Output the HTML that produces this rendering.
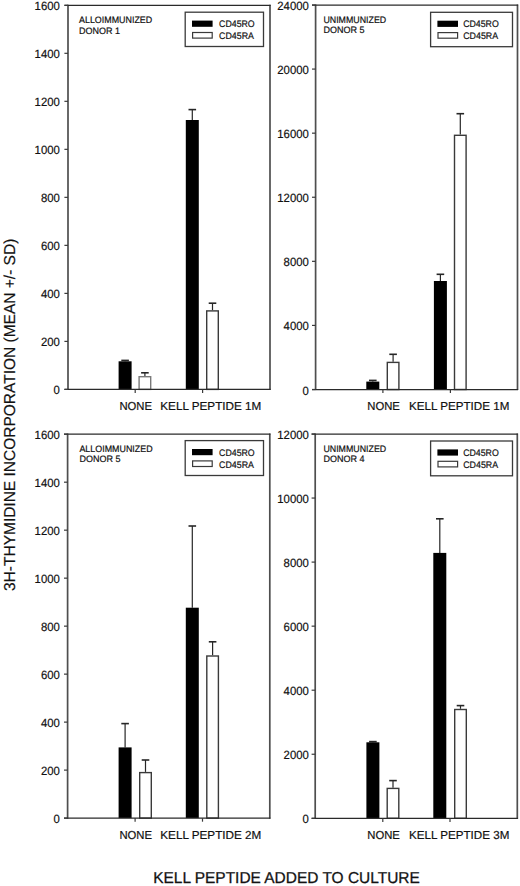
<!DOCTYPE html><html><head><meta charset="utf-8"><style>html,body{margin:0;padding:0;background:#fff;}svg{display:block;text-rendering:geometricPrecision;}text{font-family:"Liberation Sans", sans-serif;fill:#111;}</style></head><body>
<svg width="520" height="886" viewBox="0 0 520 886">
<rect width="520" height="886" fill="#fff"/>
<line x1="125.10" y1="361.30" x2="125.10" y2="360.40" stroke="#262626" stroke-width="1.2"/>
<line x1="121.30" y1="360.40" x2="128.90" y2="360.40" stroke="#262626" stroke-width="1.6"/>
<rect x="118.60" y="361.30" width="13.0" height="28.10" fill="#000"/>
<line x1="144.90" y1="376.00" x2="144.90" y2="372.80" stroke="#262626" stroke-width="1.2"/>
<line x1="141.10" y1="372.80" x2="148.70" y2="372.80" stroke="#262626" stroke-width="1.6"/>
<rect x="139.10" y="376.70" width="11.6" height="12.70" fill="#fff" stroke="#7a7a7a" stroke-width="1.4"/>
<line x1="192.30" y1="120.00" x2="192.30" y2="109.60" stroke="#262626" stroke-width="1.2"/>
<line x1="188.50" y1="109.60" x2="196.10" y2="109.60" stroke="#262626" stroke-width="1.6"/>
<rect x="185.80" y="120.00" width="13.0" height="269.40" fill="#000"/>
<line x1="212.50" y1="310.20" x2="212.50" y2="303.20" stroke="#262626" stroke-width="1.2"/>
<line x1="208.70" y1="303.20" x2="216.30" y2="303.20" stroke="#262626" stroke-width="1.6"/>
<rect x="206.70" y="310.90" width="11.6" height="78.50" fill="#fff" stroke="#3a3a3a" stroke-width="1.4"/>
<line x1="68.00" y1="4.70" x2="68.00" y2="390.00" stroke="#4e4e4e" stroke-width="1.7"/>
<line x1="270.00" y1="4.70" x2="270.00" y2="390.00" stroke="#4e4e4e" stroke-width="1.7"/>
<line x1="64.40" y1="5.30" x2="270.60" y2="5.30" stroke="#2a2a2a" stroke-width="1.25"/>
<line x1="64.40" y1="389.40" x2="270.60" y2="389.40" stroke="#2a2a2a" stroke-width="1.25"/>
<line x1="64.40" y1="389.40" x2="68.00" y2="389.40" stroke="#3a3a3a" stroke-width="1.2"/>
<text x="59.80" y="394.40" font-size="12" text-anchor="end" textLength="6.30" lengthAdjust="spacingAndGlyphs" stroke="#111" stroke-width="0.2">0</text>
<line x1="64.40" y1="341.39" x2="68.00" y2="341.39" stroke="#3a3a3a" stroke-width="1.2"/>
<text x="59.80" y="346.39" font-size="12" text-anchor="end" textLength="18.90" lengthAdjust="spacingAndGlyphs" stroke="#111" stroke-width="0.2">200</text>
<line x1="64.40" y1="293.38" x2="68.00" y2="293.38" stroke="#3a3a3a" stroke-width="1.2"/>
<text x="59.80" y="298.38" font-size="12" text-anchor="end" textLength="18.90" lengthAdjust="spacingAndGlyphs" stroke="#111" stroke-width="0.2">400</text>
<line x1="64.40" y1="245.36" x2="68.00" y2="245.36" stroke="#3a3a3a" stroke-width="1.2"/>
<text x="59.80" y="250.36" font-size="12" text-anchor="end" textLength="18.90" lengthAdjust="spacingAndGlyphs" stroke="#111" stroke-width="0.2">600</text>
<line x1="64.40" y1="197.35" x2="68.00" y2="197.35" stroke="#3a3a3a" stroke-width="1.2"/>
<text x="59.80" y="202.35" font-size="12" text-anchor="end" textLength="18.90" lengthAdjust="spacingAndGlyphs" stroke="#111" stroke-width="0.2">800</text>
<line x1="64.40" y1="149.34" x2="68.00" y2="149.34" stroke="#3a3a3a" stroke-width="1.2"/>
<text x="59.80" y="154.34" font-size="12" text-anchor="end" textLength="25.20" lengthAdjust="spacingAndGlyphs" stroke="#111" stroke-width="0.2">1000</text>
<line x1="64.40" y1="101.32" x2="68.00" y2="101.32" stroke="#3a3a3a" stroke-width="1.2"/>
<text x="59.80" y="106.32" font-size="12" text-anchor="end" textLength="25.20" lengthAdjust="spacingAndGlyphs" stroke="#111" stroke-width="0.2">1200</text>
<line x1="64.40" y1="53.31" x2="68.00" y2="53.31" stroke="#3a3a3a" stroke-width="1.2"/>
<text x="59.80" y="58.31" font-size="12" text-anchor="end" textLength="25.20" lengthAdjust="spacingAndGlyphs" stroke="#111" stroke-width="0.2">1400</text>
<line x1="64.40" y1="5.30" x2="68.00" y2="5.30" stroke="#3a3a3a" stroke-width="1.2"/>
<text x="59.80" y="10.30" font-size="12" text-anchor="end" textLength="25.20" lengthAdjust="spacingAndGlyphs" stroke="#111" stroke-width="0.2">1600</text>
<line x1="135.20" y1="389.40" x2="135.20" y2="393.00" stroke="#3a3a3a" stroke-width="1.2"/>
<line x1="202.60" y1="389.40" x2="202.60" y2="393.00" stroke="#3a3a3a" stroke-width="1.2"/>
<text x="119.40" y="409.80" font-size="11.6" textLength="32.6" lengthAdjust="spacingAndGlyphs" stroke="#111" stroke-width="0.2">NONE</text>
<text x="160.30" y="409.80" font-size="11.6" textLength="101.0" lengthAdjust="spacingAndGlyphs" stroke="#111" stroke-width="0.2">KELL PEPTIDE 1M</text>
<text x="79.00" y="23.20" font-size="9.3" textLength="73.2" lengthAdjust="spacingAndGlyphs" stroke="#111" stroke-width="0.2">ALLOIMMUNIZED</text>
<text x="79.00" y="33.50" font-size="9.3" textLength="41" lengthAdjust="spacingAndGlyphs" stroke="#111" stroke-width="0.2">DONOR 1</text>
<rect x="185.20" y="12.20" width="78.30" height="34.30" fill="#fff" stroke="#3a3a3a" stroke-width="1.3"/>
<rect x="192.00" y="20.60" width="20.6" height="6.2" fill="#000"/>
<rect x="192.60" y="32.50" width="19.6" height="5.6" fill="#fff" stroke="#3a3a3a" stroke-width="1.2"/>
<text x="219.10" y="27.20" font-size="9.5" textLength="35.6" lengthAdjust="spacingAndGlyphs" stroke="#111" stroke-width="0.2">CD45RO</text>
<text x="219.10" y="39.20" font-size="9.5" textLength="34.9" lengthAdjust="spacingAndGlyphs" stroke="#111" stroke-width="0.2">CD45RA</text>
<line x1="372.80" y1="381.60" x2="372.80" y2="380.40" stroke="#262626" stroke-width="1.2"/>
<line x1="369.00" y1="380.40" x2="376.60" y2="380.40" stroke="#262626" stroke-width="1.6"/>
<rect x="366.30" y="381.60" width="13.0" height="7.90" fill="#000"/>
<line x1="393.10" y1="361.70" x2="393.10" y2="354.30" stroke="#262626" stroke-width="1.2"/>
<line x1="389.30" y1="354.30" x2="396.90" y2="354.30" stroke="#262626" stroke-width="1.6"/>
<rect x="387.30" y="362.40" width="11.6" height="27.10" fill="#fff" stroke="#3a3a3a" stroke-width="1.4"/>
<line x1="440.40" y1="281.00" x2="440.40" y2="274.30" stroke="#262626" stroke-width="1.2"/>
<line x1="436.60" y1="274.30" x2="444.20" y2="274.30" stroke="#262626" stroke-width="1.6"/>
<rect x="433.90" y="281.00" width="13.0" height="108.50" fill="#000"/>
<line x1="460.30" y1="134.60" x2="460.30" y2="113.70" stroke="#262626" stroke-width="1.2"/>
<line x1="456.50" y1="113.70" x2="464.10" y2="113.70" stroke="#262626" stroke-width="1.6"/>
<rect x="454.50" y="135.30" width="11.6" height="254.20" fill="#fff" stroke="#3a3a3a" stroke-width="1.4"/>
<line x1="315.60" y1="4.40" x2="315.60" y2="390.10" stroke="#4e4e4e" stroke-width="1.7"/>
<line x1="517.50" y1="4.40" x2="517.50" y2="390.10" stroke="#4e4e4e" stroke-width="1.7"/>
<line x1="312.00" y1="5.00" x2="518.10" y2="5.00" stroke="#2a2a2a" stroke-width="1.25"/>
<line x1="312.00" y1="389.50" x2="518.10" y2="389.50" stroke="#2a2a2a" stroke-width="1.25"/>
<line x1="312.00" y1="389.50" x2="315.60" y2="389.50" stroke="#3a3a3a" stroke-width="1.2"/>
<text x="308.80" y="394.50" font-size="12" text-anchor="end" textLength="6.30" lengthAdjust="spacingAndGlyphs" stroke="#111" stroke-width="0.2">0</text>
<line x1="312.00" y1="325.42" x2="315.60" y2="325.42" stroke="#3a3a3a" stroke-width="1.2"/>
<text x="308.80" y="330.42" font-size="12" text-anchor="end" textLength="25.20" lengthAdjust="spacingAndGlyphs" stroke="#111" stroke-width="0.2">4000</text>
<line x1="312.00" y1="261.33" x2="315.60" y2="261.33" stroke="#3a3a3a" stroke-width="1.2"/>
<text x="308.80" y="266.33" font-size="12" text-anchor="end" textLength="25.20" lengthAdjust="spacingAndGlyphs" stroke="#111" stroke-width="0.2">8000</text>
<line x1="312.00" y1="197.25" x2="315.60" y2="197.25" stroke="#3a3a3a" stroke-width="1.2"/>
<text x="308.80" y="202.25" font-size="12" text-anchor="end" textLength="31.50" lengthAdjust="spacingAndGlyphs" stroke="#111" stroke-width="0.2">12000</text>
<line x1="312.00" y1="133.17" x2="315.60" y2="133.17" stroke="#3a3a3a" stroke-width="1.2"/>
<text x="308.80" y="138.17" font-size="12" text-anchor="end" textLength="31.50" lengthAdjust="spacingAndGlyphs" stroke="#111" stroke-width="0.2">16000</text>
<line x1="312.00" y1="69.08" x2="315.60" y2="69.08" stroke="#3a3a3a" stroke-width="1.2"/>
<text x="308.80" y="74.08" font-size="12" text-anchor="end" textLength="31.50" lengthAdjust="spacingAndGlyphs" stroke="#111" stroke-width="0.2">20000</text>
<line x1="312.00" y1="5.00" x2="315.60" y2="5.00" stroke="#3a3a3a" stroke-width="1.2"/>
<text x="308.80" y="10.00" font-size="12" text-anchor="end" textLength="31.50" lengthAdjust="spacingAndGlyphs" stroke="#111" stroke-width="0.2">24000</text>
<line x1="382.90" y1="389.50" x2="382.90" y2="393.10" stroke="#3a3a3a" stroke-width="1.2"/>
<line x1="450.40" y1="389.50" x2="450.40" y2="393.10" stroke="#3a3a3a" stroke-width="1.2"/>
<text x="367.30" y="409.90" font-size="11.6" textLength="32.6" lengthAdjust="spacingAndGlyphs" stroke="#111" stroke-width="0.2">NONE</text>
<text x="409.00" y="409.90" font-size="11.6" textLength="100.4" lengthAdjust="spacingAndGlyphs" stroke="#111" stroke-width="0.2">KELL PEPTIDE 1M</text>
<text x="323.40" y="22.60" font-size="9.3" textLength="62.8" lengthAdjust="spacingAndGlyphs" stroke="#111" stroke-width="0.2">UNIMMUNIZED</text>
<text x="323.40" y="32.90" font-size="9.3" textLength="41" lengthAdjust="spacingAndGlyphs" stroke="#111" stroke-width="0.2">DONOR 5</text>
<rect x="430.60" y="12.30" width="81.90" height="34.40" fill="#fff" stroke="#3a3a3a" stroke-width="1.3"/>
<rect x="437.40" y="20.70" width="20.6" height="6.2" fill="#000"/>
<rect x="438.00" y="32.60" width="19.6" height="5.6" fill="#fff" stroke="#3a3a3a" stroke-width="1.2"/>
<text x="463.20" y="27.30" font-size="9.5" textLength="35.6" lengthAdjust="spacingAndGlyphs" stroke="#111" stroke-width="0.2">CD45RO</text>
<text x="463.20" y="39.30" font-size="9.5" textLength="34.9" lengthAdjust="spacingAndGlyphs" stroke="#111" stroke-width="0.2">CD45RA</text>
<line x1="125.10" y1="747.40" x2="125.10" y2="723.60" stroke="#262626" stroke-width="1.2"/>
<line x1="121.30" y1="723.60" x2="128.90" y2="723.60" stroke="#262626" stroke-width="1.6"/>
<rect x="118.60" y="747.40" width="13.0" height="70.70" fill="#000"/>
<line x1="145.50" y1="771.90" x2="145.50" y2="760.00" stroke="#262626" stroke-width="1.2"/>
<line x1="141.70" y1="760.00" x2="149.30" y2="760.00" stroke="#262626" stroke-width="1.6"/>
<rect x="139.70" y="772.60" width="11.6" height="45.50" fill="#fff" stroke="#3a3a3a" stroke-width="1.4"/>
<line x1="192.30" y1="607.70" x2="192.30" y2="526.00" stroke="#262626" stroke-width="1.2"/>
<line x1="188.50" y1="526.00" x2="196.10" y2="526.00" stroke="#262626" stroke-width="1.6"/>
<rect x="185.80" y="607.70" width="13.0" height="210.40" fill="#000"/>
<line x1="212.60" y1="655.30" x2="212.60" y2="641.80" stroke="#262626" stroke-width="1.2"/>
<line x1="208.80" y1="641.80" x2="216.40" y2="641.80" stroke="#262626" stroke-width="1.6"/>
<rect x="206.80" y="656.00" width="11.6" height="162.10" fill="#fff" stroke="#3a3a3a" stroke-width="1.4"/>
<line x1="67.60" y1="433.60" x2="67.60" y2="818.70" stroke="#4e4e4e" stroke-width="1.7"/>
<line x1="269.80" y1="433.60" x2="269.80" y2="818.70" stroke="#4e4e4e" stroke-width="1.7"/>
<line x1="64.00" y1="434.20" x2="270.40" y2="434.20" stroke="#2a2a2a" stroke-width="1.25"/>
<line x1="64.00" y1="818.10" x2="270.40" y2="818.10" stroke="#2a2a2a" stroke-width="1.25"/>
<line x1="64.00" y1="818.10" x2="67.60" y2="818.10" stroke="#3a3a3a" stroke-width="1.2"/>
<text x="59.80" y="823.10" font-size="12" text-anchor="end" textLength="6.30" lengthAdjust="spacingAndGlyphs" stroke="#111" stroke-width="0.2">0</text>
<line x1="64.00" y1="770.11" x2="67.60" y2="770.11" stroke="#3a3a3a" stroke-width="1.2"/>
<text x="59.80" y="775.11" font-size="12" text-anchor="end" textLength="18.90" lengthAdjust="spacingAndGlyphs" stroke="#111" stroke-width="0.2">200</text>
<line x1="64.00" y1="722.12" x2="67.60" y2="722.12" stroke="#3a3a3a" stroke-width="1.2"/>
<text x="59.80" y="727.12" font-size="12" text-anchor="end" textLength="18.90" lengthAdjust="spacingAndGlyphs" stroke="#111" stroke-width="0.2">400</text>
<line x1="64.00" y1="674.14" x2="67.60" y2="674.14" stroke="#3a3a3a" stroke-width="1.2"/>
<text x="59.80" y="679.14" font-size="12" text-anchor="end" textLength="18.90" lengthAdjust="spacingAndGlyphs" stroke="#111" stroke-width="0.2">600</text>
<line x1="64.00" y1="626.15" x2="67.60" y2="626.15" stroke="#3a3a3a" stroke-width="1.2"/>
<text x="59.80" y="631.15" font-size="12" text-anchor="end" textLength="18.90" lengthAdjust="spacingAndGlyphs" stroke="#111" stroke-width="0.2">800</text>
<line x1="64.00" y1="578.16" x2="67.60" y2="578.16" stroke="#3a3a3a" stroke-width="1.2"/>
<text x="59.80" y="583.16" font-size="12" text-anchor="end" textLength="25.20" lengthAdjust="spacingAndGlyphs" stroke="#111" stroke-width="0.2">1000</text>
<line x1="64.00" y1="530.17" x2="67.60" y2="530.17" stroke="#3a3a3a" stroke-width="1.2"/>
<text x="59.80" y="535.17" font-size="12" text-anchor="end" textLength="25.20" lengthAdjust="spacingAndGlyphs" stroke="#111" stroke-width="0.2">1200</text>
<line x1="64.00" y1="482.19" x2="67.60" y2="482.19" stroke="#3a3a3a" stroke-width="1.2"/>
<text x="59.80" y="487.19" font-size="12" text-anchor="end" textLength="25.20" lengthAdjust="spacingAndGlyphs" stroke="#111" stroke-width="0.2">1400</text>
<line x1="64.00" y1="434.20" x2="67.60" y2="434.20" stroke="#3a3a3a" stroke-width="1.2"/>
<text x="59.80" y="439.20" font-size="12" text-anchor="end" textLength="25.20" lengthAdjust="spacingAndGlyphs" stroke="#111" stroke-width="0.2">1600</text>
<line x1="135.10" y1="818.10" x2="135.10" y2="821.70" stroke="#3a3a3a" stroke-width="1.2"/>
<line x1="202.50" y1="818.10" x2="202.50" y2="821.70" stroke="#3a3a3a" stroke-width="1.2"/>
<text x="119.40" y="838.50" font-size="11.6" textLength="32.6" lengthAdjust="spacingAndGlyphs" stroke="#111" stroke-width="0.2">NONE</text>
<text x="160.30" y="838.50" font-size="11.6" textLength="101.0" lengthAdjust="spacingAndGlyphs" stroke="#111" stroke-width="0.2">KELL PEPTIDE 2M</text>
<text x="79.40" y="452.00" font-size="9.3" textLength="73.2" lengthAdjust="spacingAndGlyphs" stroke="#111" stroke-width="0.2">ALLOIMMUNIZED</text>
<text x="79.40" y="462.30" font-size="9.3" textLength="41" lengthAdjust="spacingAndGlyphs" stroke="#111" stroke-width="0.2">DONOR 5</text>
<rect x="185.20" y="440.60" width="78.30" height="34.90" fill="#fff" stroke="#3a3a3a" stroke-width="1.3"/>
<rect x="192.00" y="449.00" width="20.6" height="6.2" fill="#000"/>
<rect x="192.60" y="460.90" width="19.6" height="5.6" fill="#fff" stroke="#3a3a3a" stroke-width="1.2"/>
<text x="219.10" y="455.60" font-size="9.5" textLength="35.6" lengthAdjust="spacingAndGlyphs" stroke="#111" stroke-width="0.2">CD45RO</text>
<text x="219.10" y="467.60" font-size="9.5" textLength="34.9" lengthAdjust="spacingAndGlyphs" stroke="#111" stroke-width="0.2">CD45RA</text>
<line x1="372.90" y1="742.30" x2="372.90" y2="741.60" stroke="#262626" stroke-width="1.2"/>
<line x1="369.10" y1="741.60" x2="376.70" y2="741.60" stroke="#262626" stroke-width="1.6"/>
<rect x="366.40" y="742.30" width="13.0" height="76.00" fill="#000"/>
<line x1="393.00" y1="787.70" x2="393.00" y2="780.60" stroke="#262626" stroke-width="1.2"/>
<line x1="389.20" y1="780.60" x2="396.80" y2="780.60" stroke="#262626" stroke-width="1.6"/>
<rect x="387.20" y="788.40" width="11.6" height="29.90" fill="#fff" stroke="#3a3a3a" stroke-width="1.4"/>
<line x1="439.80" y1="552.90" x2="439.80" y2="518.80" stroke="#262626" stroke-width="1.2"/>
<line x1="436.00" y1="518.80" x2="443.60" y2="518.80" stroke="#262626" stroke-width="1.6"/>
<rect x="433.30" y="552.90" width="13.0" height="265.40" fill="#000"/>
<line x1="460.50" y1="708.80" x2="460.50" y2="705.60" stroke="#262626" stroke-width="1.2"/>
<line x1="456.70" y1="705.60" x2="464.30" y2="705.60" stroke="#262626" stroke-width="1.6"/>
<rect x="454.70" y="709.50" width="11.6" height="108.80" fill="#fff" stroke="#3a3a3a" stroke-width="1.4"/>
<line x1="315.20" y1="433.40" x2="315.20" y2="818.90" stroke="#4e4e4e" stroke-width="1.7"/>
<line x1="517.30" y1="433.40" x2="517.30" y2="818.90" stroke="#4e4e4e" stroke-width="1.7"/>
<line x1="311.60" y1="434.00" x2="517.90" y2="434.00" stroke="#2a2a2a" stroke-width="1.25"/>
<line x1="311.60" y1="818.30" x2="517.90" y2="818.30" stroke="#2a2a2a" stroke-width="1.25"/>
<line x1="311.60" y1="818.30" x2="315.20" y2="818.30" stroke="#3a3a3a" stroke-width="1.2"/>
<text x="308.80" y="823.30" font-size="12" text-anchor="end" textLength="6.30" lengthAdjust="spacingAndGlyphs" stroke="#111" stroke-width="0.2">0</text>
<line x1="311.60" y1="754.25" x2="315.20" y2="754.25" stroke="#3a3a3a" stroke-width="1.2"/>
<text x="308.80" y="759.25" font-size="12" text-anchor="end" textLength="25.20" lengthAdjust="spacingAndGlyphs" stroke="#111" stroke-width="0.2">2000</text>
<line x1="311.60" y1="690.20" x2="315.20" y2="690.20" stroke="#3a3a3a" stroke-width="1.2"/>
<text x="308.80" y="695.20" font-size="12" text-anchor="end" textLength="25.20" lengthAdjust="spacingAndGlyphs" stroke="#111" stroke-width="0.2">4000</text>
<line x1="311.60" y1="626.15" x2="315.20" y2="626.15" stroke="#3a3a3a" stroke-width="1.2"/>
<text x="308.80" y="631.15" font-size="12" text-anchor="end" textLength="25.20" lengthAdjust="spacingAndGlyphs" stroke="#111" stroke-width="0.2">6000</text>
<line x1="311.60" y1="562.10" x2="315.20" y2="562.10" stroke="#3a3a3a" stroke-width="1.2"/>
<text x="308.80" y="567.10" font-size="12" text-anchor="end" textLength="25.20" lengthAdjust="spacingAndGlyphs" stroke="#111" stroke-width="0.2">8000</text>
<line x1="311.60" y1="498.05" x2="315.20" y2="498.05" stroke="#3a3a3a" stroke-width="1.2"/>
<text x="308.80" y="503.05" font-size="12" text-anchor="end" textLength="31.50" lengthAdjust="spacingAndGlyphs" stroke="#111" stroke-width="0.2">10000</text>
<line x1="311.60" y1="434.00" x2="315.20" y2="434.00" stroke="#3a3a3a" stroke-width="1.2"/>
<text x="308.80" y="439.00" font-size="12" text-anchor="end" textLength="31.50" lengthAdjust="spacingAndGlyphs" stroke="#111" stroke-width="0.2">12000</text>
<line x1="382.80" y1="818.30" x2="382.80" y2="821.90" stroke="#3a3a3a" stroke-width="1.2"/>
<line x1="450.00" y1="818.30" x2="450.00" y2="821.90" stroke="#3a3a3a" stroke-width="1.2"/>
<text x="367.30" y="838.70" font-size="11.6" textLength="32.6" lengthAdjust="spacingAndGlyphs" stroke="#111" stroke-width="0.2">NONE</text>
<text x="409.00" y="838.70" font-size="11.6" textLength="100.4" lengthAdjust="spacingAndGlyphs" stroke="#111" stroke-width="0.2">KELL PEPTIDE 3M</text>
<text x="323.40" y="451.80" font-size="9.3" textLength="62.8" lengthAdjust="spacingAndGlyphs" stroke="#111" stroke-width="0.2">UNIMMUNIZED</text>
<text x="323.40" y="462.10" font-size="9.3" textLength="41" lengthAdjust="spacingAndGlyphs" stroke="#111" stroke-width="0.2">DONOR 4</text>
<rect x="430.60" y="441.00" width="81.90" height="34.80" fill="#fff" stroke="#3a3a3a" stroke-width="1.3"/>
<rect x="437.40" y="449.40" width="20.6" height="6.2" fill="#000"/>
<rect x="438.00" y="461.30" width="19.6" height="5.6" fill="#fff" stroke="#3a3a3a" stroke-width="1.2"/>
<text x="463.20" y="456.00" font-size="9.5" textLength="35.6" lengthAdjust="spacingAndGlyphs" stroke="#111" stroke-width="0.2">CD45RO</text>
<text x="463.20" y="468.00" font-size="9.5" textLength="34.9" lengthAdjust="spacingAndGlyphs" stroke="#111" stroke-width="0.2">CD45RA</text>
<text x="153.2" y="882.6" font-size="15.8" textLength="266.6" stroke="#1a1a1a" stroke-width="0.3" lengthAdjust="spacingAndGlyphs">KELL PEPTIDE ADDED TO CULTURE</text>
<text transform="translate(14.6 591.0) rotate(-90)" x="0" y="0" font-size="15.8" textLength="352.3" stroke="#1a1a1a" stroke-width="0.2" lengthAdjust="spacingAndGlyphs">3H-THYMIDINE INCORPORATION (MEAN +/- SD)</text>
</svg></body></html>
